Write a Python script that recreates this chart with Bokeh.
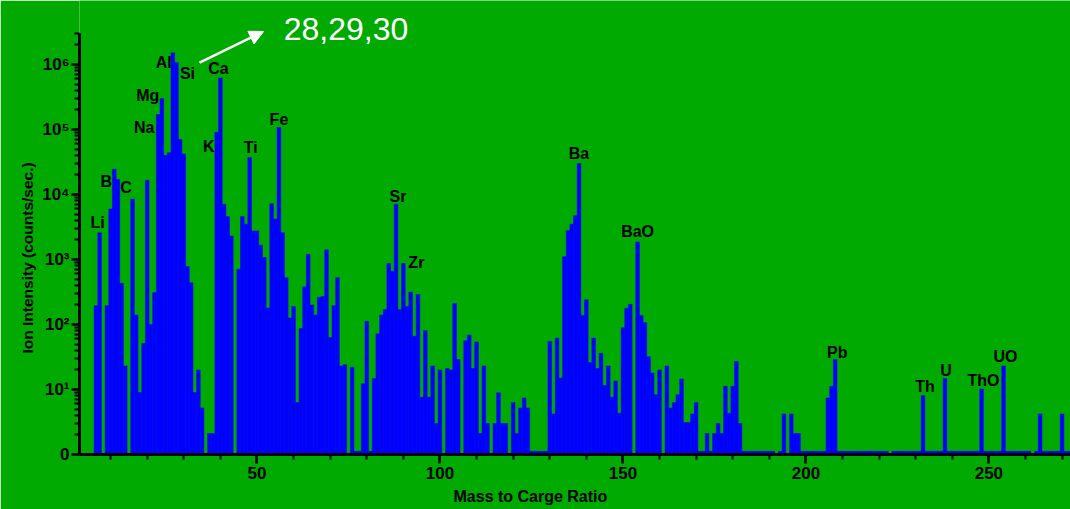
from bokeh.plotting import figure
from bokeh.models import ColumnDataSource, FixedTicker, Range1d, Label, Arrow, NormalHead, Title
from bokeh.core.properties import value
from bokeh.embed import file_html
from bokeh.resources import INLINE

# Mass spectrum: integer mass-to-charge ratio and ion intensity (counts/sec.)
mass = list(range(1, 273))
counts = [
    0, 0, 0, 0, 0, 195, 2570, 0, 195, 6000,                               # 1-10
    24500, 17000, 430, 23, 0, 8500, 140, 9, 51, 16600,                    # 11-20
    100, 310, 170000, 300000, 40000, 44000, 1510000, 1070000, 70000, 42000,  # 21-30
    780, 440, 9, 20, 5.2, 0, 2.1, 2.1, 91000, 620000,                     # 31-40
    7100, 4600, 2300, 0, 710, 4600, 3500, 37000, 2750, 2750,              # 41-50
    1660, 1070, 180, 7200, 4200, 107000, 2570, 525, 126, 190,             # 51-60
    6.3, 87, 380, 1200, 200, 140, 263, 270, 1410, 63,                     # 61-70
    195, 525, 23, 24, 0, 22, 1.12, 1.12, 12.3, 112,                       # 71-80
    1.12, 14.8, 72, 140, 170, 870, 660, 7100, 170, 870,                   # 81-90
    190, 316, 66, 290, 7.6, 81, 7.6, 23, 3, 20,                           # 91-100
    0, 21, 20, 210, 29, 0, 56, 69, 21, 54,                                # 101-110
    2.1, 23, 3, 0, 3, 8.9, 3, 3, 0, 6.3,                                  # 111-120
    2.1, 5.2, 7.4, 5.2, 1.12, 1.12, 1.12, 1.12, 1.12, 55,                 # 121-130
    4.2, 62, 15, 1100, 2800, 3500, 4700, 30000, 138, 240,                 # 131-140
    26, 62, 21, 36, 11.5, 23, 7.6, 13.5, 4.3, 89,                         # 141-150
    178, 204, 0, 1860, 138, 107, 32, 18, 8.3, 20,                         # 151-160
    0, 23, 5.2, 6.3, 8.3, 14.5, 3.1, 3.1, 4.2, 6.3,                       # 161-170
    1.12, 1.12, 2.1, 1.12, 2.1, 3, 2.1, 11.2, 4.3, 11.2,                  # 171-180
    27, 3, 1.12, 1.12, 1.12, 1.12, 1.12, 1.12, 1.12, 1.12,                # 181-190
    1.12, 0, 1.12, 4.2, 0, 4.2, 2.1, 2.1, 1.12, 1.12,                     # 191-200
    1.12, 1.12, 1.12, 1.12, 1.12, 7.4, 11.2, 29, 1.12, 1.12,              # 201-210
    1.12, 1.12, 1.12, 1.12, 1.12, 1.12, 1.12, 1.12, 1.12, 1.12,           # 211-220
    1.12, 1.12, 0, 1.12, 1.12, 1.12, 1.12, 1.12, 1.12, 1.12,              # 221-230
    1.12, 8.1, 1.12, 1.12, 1.12, 1.12, 1.12, 14.8, 1.12, 1.12,            # 231-240
    1.12, 1.12, 1.12, 1.12, 1.12, 1.12, 1.12, 10.2, 1.12, 1.12,           # 241-250
    1.12, 1.12, 1.12, 23, 1.12, 1.12, 1.12, 1.12, 1.12, 1.12,             # 251-260
    1.12, 0, 1.12, 4.2, 1.12, 1.12, 1.12, 1.12, 1.12, 4.2,                # 261-270
    1.12, 1.12,                                                           # 271-272
]

# Peak annotations (element / oxide and its mass)
peak_names = ["Li", "B", "C", "Na", "Mg", "Al", "Si", "K", "Ca", "Ti",
              "Fe", "Sr", "Zr", "Ba", "BaO", "Pb", "Th", "U", "ThO", "UO"]
peak_mass = [7, 11, 12, 23, 24, 27, 28, 39, 40, 48,
             56, 88, 90, 138, 154, 208, 232, 238, 248, 254]

# y-axis tick labels
y_ticks = [1, 10, 100, 1000, 10000, 100000, 1000000]
y_tick_labels = ["0", "10\u00b9", "10\u00b2", "10\u00b3", "10\u2074", "10\u2075", "10\u2076"]
x_ticks = [50, 100, 150, 200, 250]

GREEN = "#00aa00"
BLUE = "#0000ff"
FONT = "Liberation Sans"
Y_AXIS_TOP = 3.0e6

# zero-count masses have no bar on the log axis
bar_src = ColumnDataSource(dict(
    mass=[m for m, c in zip(mass, counts) if c > 0],
    counts=[c for c in counts if c > 0],
))

# label placement relative to the top of each peak (pixels)
lab_dx = [-2, -8, 8, -14, -14, -9, 11, -8, -2, 1, 0, 2, 13, 0, 0, 2, 2, 1, 2, 2]
lab_dy = [-10, 12, 8, 13, -3, 10, 11, 14, -9, -10, -8, -8, -1, -10, -10, -7, -9, -8, -8, -9]
lab_src = ColumnDataSource(dict(
    x=peak_mass,
    y=[counts[m - 1] for m in peak_mass],
    text=peak_names,
    dx=lab_dx,
    dy=lab_dy,
))

p = figure(
    width=1070, height=509,
    y_axis_type="log",
    x_range=Range1d(1.5, 272.3),
    y_range=Range1d(1, 10 ** (454 / 65)),
    output_backend="svg",
    toolbar_location=None,
    min_border_left=79, min_border_right=0,
    min_border_top=0, min_border_bottom=55,
)
p.title.visible = False
p.background_fill_color = GREEN
p.border_fill_color = GREEN
p.outline_line_color = None
p.grid.visible = False

p.vbar(x="mass", top="counts", bottom=1, width=1.0, source=bar_src,
       fill_color=BLUE, line_color=BLUE, line_width=0.5)

p.text(x="x", y="y", text="text", x_offset="dx", y_offset="dy", source=lab_src,
       text_font=value(FONT), text_font_style="bold", text_font_size="16px",
       text_color="black", text_align="center", text_baseline="middle")

# axes
for ax in (p.xaxis[0], p.yaxis[0]):
    ax.axis_line_width = 3
    ax.axis_line_color = "black"
    ax.major_tick_line_width = 2.5
    ax.minor_tick_line_width = 2
    ax.major_tick_line_color = "black"
    ax.minor_tick_line_color = "black"
    ax.major_tick_in = 0
    ax.minor_tick_in = 0
    ax.major_label_text_font = FONT
    ax.major_label_text_font_style = "bold"
    ax.major_label_text_font_size = "17px"
    ax.major_label_text_color = "black"

p.xaxis.ticker = FixedTicker(ticks=x_ticks, minor_ticks=list(range(10, 280, 10)))
p.xaxis.major_tick_out = 9
p.xaxis.minor_tick_out = 5
p.xaxis.major_label_standoff = 3

p.yaxis.bounds = (1, Y_AXIS_TOP)
p.yaxis.ticker = FixedTicker(
    ticks=y_ticks,
    minor_ticks=[k * 10 ** d for d in range(0, 7) for k in range(2, 10) if k * 10 ** d <= Y_AXIS_TOP],
)
p.yaxis.major_label_overrides = {t: lab for t, lab in zip(y_ticks, y_tick_labels)}
p.yaxis.major_tick_out = 8
p.yaxis.minor_tick_out = 5
p.yaxis.major_label_standoff = 2

# axis titles, placed off the frame centre
p.add_layout(Title(text="Ion Intensity (counts/sec.)", align="left", offset=101, standoff=8,
                   text_font=FONT, text_font_style="bold", text_font_size="15.5px",
                   text_color="black"), "left")
p.add_layout(Title(text="Mass to Carge Ratio", align="left", offset=374, standoff=9,
                   text_font=FONT, text_font_style="bold", text_font_size="16px",
                   text_color="black"), "below")

# call-out for the Si isotopes
p.add_layout(Arrow(end=NormalHead(size=14, fill_color="white", line_color="white"),
                   x_start=34.3, y_start=1.07e6, x_end=51.8, y_end=3.22e6,
                   line_color="white", line_width=2.5))
p.add_layout(Label(x=57.3, y=10 ** 6.546, text="28,29,30",
                   text_font=FONT, text_font_size="32px", text_color="white",
                   text_align="left", text_baseline="middle"))

open("out.html", "w").write(file_html(p, INLINE))
